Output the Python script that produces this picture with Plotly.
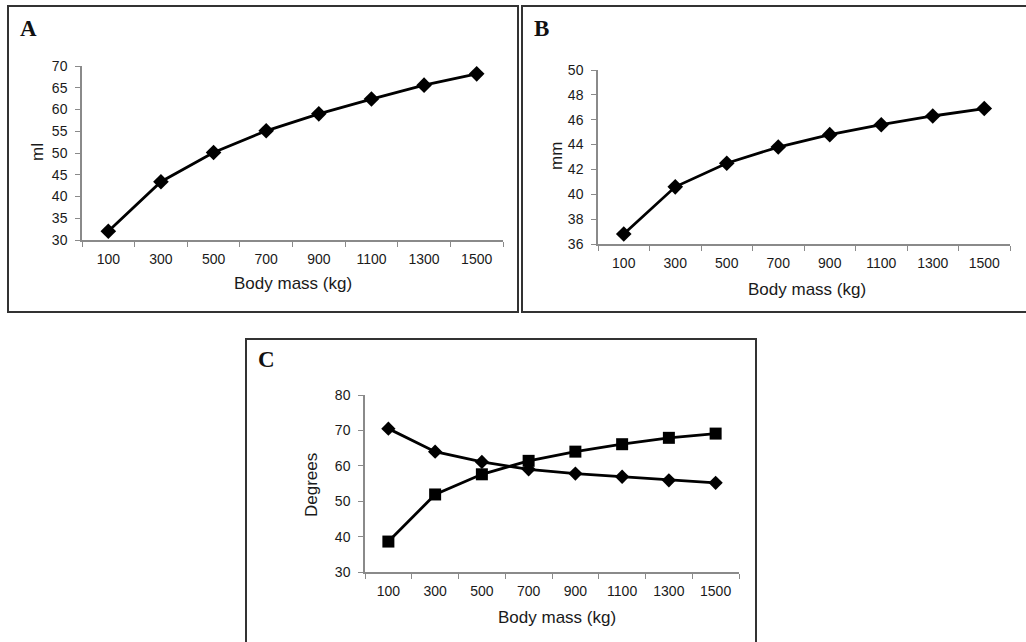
import plotly.graph_objects as go

W, H = 1026, 642

body_mass = ["100", "300", "500", "700", "900", "1100", "1300", "1500"]
volume_ml = [32.0, 43.4, 50.1, 55.1, 59.0, 62.4, 65.6, 68.2]
length_mm = [36.8, 40.6, 42.5, 43.8, 44.8, 45.6, 46.3, 46.9]
angle_diamond = [70.5, 64.0, 61.1, 59.0, 57.8, 56.9, 55.9, 55.2]
angle_square = [38.6, 51.9, 57.6, 61.4, 64.0, 66.1, 67.9, 69.1]

def px(x):
    return x / W

def py(y):
    return 1 - y / H

fig = go.Figure()

line = dict(color="black", width=2.8)
fig.add_trace(go.Scatter(x=body_mass, y=volume_ml, mode="lines+markers", line=line,
                         marker=dict(symbol="diamond", size=12, color="black"),
                         xaxis="x", yaxis="y", showlegend=False))
fig.add_trace(go.Scatter(x=body_mass, y=length_mm, mode="lines+markers", line=line,
                         marker=dict(symbol="diamond", size=12, color="black"),
                         xaxis="x2", yaxis="y2", showlegend=False))
fig.add_trace(go.Scatter(x=body_mass, y=angle_diamond, mode="lines+markers", line=line,
                         marker=dict(symbol="diamond", size=11, color="black"),
                         xaxis="x3", yaxis="y3", showlegend=False))
fig.add_trace(go.Scatter(x=body_mass, y=angle_square, mode="lines+markers", line=line,
                         marker=dict(symbol="square", size=12, color="black"),
                         xaxis="x3", yaxis="y3", showlegend=False))

axcol = "#8a8a8a"
tickfont = dict(family="Liberation Sans", size=14, color="#1a1a1a")
titlefont = dict(family="Liberation Sans", size=17, color="#1a1a1a")

def xaxis(domain, anchor):
    return dict(domain=domain, anchor=anchor, type="category", range=[-0.5, 7.5],
                tickson="boundaries", ticks="outside", ticklen=5, tickcolor=axcol,
                showline=True, linecolor=axcol, linewidth=1.5, showgrid=False,
                zeroline=False, tickfont=tickfont, fixedrange=True,
                ticklabelstandoff=5)

def yaxis(domain, anchor, rng, dtick):
    return dict(domain=domain, anchor=anchor, range=rng, dtick=dtick,
                ticks="outside", ticklen=5, tickcolor=axcol, showline=True,
                linecolor=axcol, linewidth=1.5, showgrid=False, zeroline=False,
                tickfont=tickfont, fixedrange=True, ticklabelstandoff=5)

fig.update_layout(
    width=W, height=H, margin=dict(l=0, r=0, t=0, b=0, autoexpand=False),
    paper_bgcolor="white", plot_bgcolor="white",
    xaxis=xaxis([px(82), px(503)], "y"),
    yaxis=yaxis([py(240), py(66)], "x", [30, 70], 5),
    xaxis2=xaxis([px(598), px(1010)], "y2"),
    yaxis2=yaxis([py(244), py(70)], "x2", [36, 50], 2),
    xaxis3=xaxis([px(365), px(739)], "y3"),
    yaxis3=yaxis([py(572), py(395)], "x3", [30, 80], 10),
)

border = dict(color="#333", width=2)
fig.add_shape(type="rect", xref="paper", yref="paper", x0=px(8), x1=px(518), y0=py(312), y1=py(6), line=border)
fig.add_shape(type="rect", xref="paper", yref="paper", x0=px(522), x1=px(1040), y0=py(312), y1=py(6), line=border)
fig.add_shape(type="rect", xref="paper", yref="paper", x0=px(246), x1=px(756), y0=py(660), y1=py(339), line=border)

letterfont = dict(family="Liberation Serif", size=23, color="#111")
for letter, x, y in [("<b>A</b>", 18, 28), ("<b>B</b>", 532, 28), ("<b>C</b>", 256, 360)]:
    fig.add_annotation(text=letter, xref="paper", yref="paper", x=px(x), y=py(y),
                       xanchor="left", yanchor="middle", showarrow=False, font=letterfont)

# axis titles
for text, x, y in [("Body mass (kg)", 293, 283), ("Body mass (kg)", 807, 289), ("Body mass (kg)", 557, 617)]:
    fig.add_annotation(text=text, xref="paper", yref="paper", x=px(x), y=py(y),
                       xanchor="center", yanchor="middle", showarrow=False, font=titlefont)
for text, x, y in [("ml", 37, 152), ("mm", 556, 156), ("Degrees", 311, 485)]:
    fig.add_annotation(text=text, xref="paper", yref="paper", x=px(x), y=py(y), textangle=-90,
                       xanchor="center", yanchor="middle", showarrow=False, font=titlefont)

fig.write_html("out.html", config={"displayModeBar": False},
               post_script="document.body.style.margin='0';")
